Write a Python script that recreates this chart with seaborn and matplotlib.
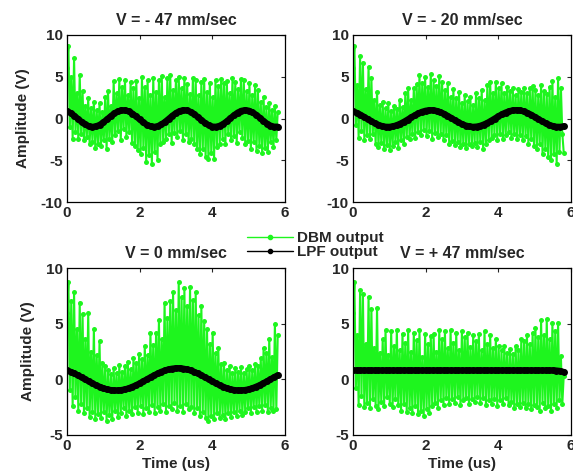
import numpy as np
import matplotlib
matplotlib.use("Agg")
import matplotlib.pyplot as plt
from matplotlib.lines import Line2D
import seaborn as sns

# ---- data ----
titles = ['V = - 47 mm/sec', 'V = - 20 mm/sec', 'V = 0 mm/sec', 'V = + 47 mm/sec']

t_end = 5.8

dbm_m47 = [
    6.0, 8.7, -1.0, 5.0, -2.4, 7.2, -1.6, 3.0, -2.5, 5.2,
    -1.9, 3.3, -2.6, 1.5, -2.2, 2.4, -3.0, 1.2, -2.8, 2.0,
    -3.5, 1.0, -3.0, 1.8, -3.3, 0.8, -2.6, 2.6, -3.6, 3.3,
    -2.4, 1.5, -2.8, 4.5, -2.0, 3.0, -1.5, 4.7, -2.6, 3.8,
    -1.3, 4.6, -2.2, 2.8, -1.6, 4.4, -2.9, 3.6, -3.3, 4.5,
    -3.8, 2.5, -4.2, 5.0, -3.5, 3.8, -5.2, 4.6, -4.4, 2.8,
    -5.5, 4.9, -4.0, 3.2, -5.0, 4.6, -3.1, 5.1, -2.8, 2.6,
    -2.5, 4.8, -1.9, 5.2, -2.9, 3.4, -1.7, 4.6, -2.2, 5.0,
    -1.5, 3.6, -2.6, 4.9, -1.9, 4.1, -2.8, 2.9, -2.4, 4.8,
    -3.1, 4.6, -3.6, 2.8, -4.3, 4.4, -3.7, 4.7, -4.6, 3.2,
    -4.9, 4.3, -4.1, 2.6, -4.8, 4.6, -3.4, 3.9, -3.0, 4.7,
    -2.4, 4.2, -3.1, 4.5, -1.8, 3.0, -2.6, 4.8, -2.1, 4.4,
    -2.9, 3.5, -1.6, 4.7, -2.3, 4.6, -3.0, 3.3, -2.7, 4.2,
    -3.6, 2.8, -2.8, 4.0, -3.9, 3.4, -3.3, 2.0, -4.1, 2.6,
    -3.5, 1.4, -4.0, 1.9, -2.8, 1.0, -3.4, 1.5, -2.6, 0.8,
]
dbm_m20 = [
    6.0, 8.7, -0.8, 4.0, -2.3, 7.5, -1.5, 6.7, -2.6, 3.5,
    -2.0, 6.2, -2.5, 4.8, -1.8, 2.2, -3.0, 3.2, -3.4, 1.6,
    -2.9, 2.0, -3.6, 1.2, -3.2, 1.8, -3.8, 0.9, -3.3, 1.5,
    -2.8, 1.1, -3.5, 2.2, -2.6, 1.4, -3.0, 3.0, -2.2, 3.6,
    -2.5, 2.2, -1.9, 3.6, -2.3, 4.1, -1.6, 5.2, -2.0, 4.3,
    -1.4, 5.0, -2.1, 3.8, -1.5, 5.3, -2.4, 4.6, -1.7, 3.9,
    -2.2, 5.1, -1.8, 4.4, -2.6, 3.4, -2.0, 4.2, -3.0, 2.6,
    -2.7, 3.5, -3.2, 2.4, -2.8, 3.2, -3.4, 1.9, -3.1, 2.8,
    -3.5, 2.1, -3.0, 2.6, -3.3, 1.6, -2.9, 3.0, -3.4, 2.4,
    -2.8, 3.4, -3.6, 2.2, -3.0, 4.0, -2.6, 4.4, -2.3, 3.1,
    -2.0, 4.4, -2.6, 3.6, -1.8, 4.2, -2.4, 3.0, -2.0, 3.8,
    -1.6, 3.3, -2.3, 3.6, -1.9, 2.8, -2.5, 3.5, -2.0, 3.2,
    -2.6, 3.7, -2.1, 3.0, -3.0, 3.6, -2.4, 3.9, -3.3, 3.4,
    -3.6, 2.8, -3.0, 4.0, -4.2, 3.3, -3.7, 2.9, -4.6, 3.8,
    -5.0, 4.5, -4.2, 2.6, -5.4, 4.8, -4.0, 3.7, -1.8, -4.1,
]
dbm_0 = [
    6.0, 8.7, -1.0, 7.0, -2.4, 7.8, -1.6, 4.5, -2.8, 6.9,
    -2.2, 5.9, -3.0, 3.6, -2.6, 6.0, -3.4, 2.5, -2.9, 4.5,
    -3.6, 2.2, -3.1, 3.4, -3.5, 1.5, -2.9, 1.2, -3.7, 0.8,
    -3.2, 0.5, -3.6, 1.0, -2.8, 0.6, -3.4, 1.3, -3.0, 0.7,
    -2.6, 1.2, -3.3, 1.6, -2.8, 0.9, -3.1, 1.9, -2.5, 1.5,
    -3.0, 2.3, -2.4, 1.8, -3.1, 3.0, -2.6, 2.2, -2.9, 4.2,
    -2.3, 3.1, -3.0, 4.2, -2.5, 5.3, -2.8, 3.6, -2.2, 6.9,
    -2.9, 5.5, -2.4, 7.0, -2.7, 7.8, -2.1, 6.2, -2.8, 8.7,
    -2.4, 7.4, -2.9, 8.2, -2.2, 6.6, -2.7, 8.3, -2.5, 7.1,
    -3.0, 7.8, -2.6, 5.8, -3.3, 6.6, -2.9, 5.2, -3.5, 4.5,
    -3.7, 3.2, -3.3, 4.2, -3.6, 2.4, -3.0, 2.8, -3.5, 1.4,
    -3.2, 1.5, -3.6, 0.8, -3.0, 1.2, -3.4, 0.6, -2.9, 1.0,
    -3.3, 0.7, -2.8, 1.1, -3.2, 0.6, -2.9, 0.9, -2.6, 1.2,
    -3.0, 0.8, -2.5, 1.4, -2.9, 1.2, -2.4, 1.9, -2.8, 2.8,
    -2.3, 2.4, -2.9, 3.6, -2.6, 2.0, -2.8, 5.0, -2.7, 4.0,
]
dbm_p47 = [
    6.0, 8.7, -0.8, 4.0, -2.3, 8.0, -1.5, 7.7, -2.5, 3.2,
    -2.1, 7.4, -2.6, 6.3, -1.8, 2.8, -2.4, 6.4, -2.7, 2.4,
    -2.0, 3.6, -2.4, 4.4, -1.6, 2.2, -2.2, 4.3, -2.5, 3.0,
    -1.8, 4.4, -2.3, 2.6, -2.8, 4.1, -2.2, 3.3, -2.9, 4.4,
    -2.6, 2.5, -3.0, 4.2, -2.4, 3.5, -3.1, 4.4, -2.8, 2.0,
    -3.3, 4.1, -2.7, 3.2, -3.0, 3.9, -2.4, 4.1, -2.1, 2.5,
    -2.6, 4.4, -1.9, 3.6, -2.3, 4.3, -1.7, 2.8, -2.2, 4.4,
    -1.8, 3.3, -2.1, 4.2, -1.6, 2.6, -2.3, 4.3, -1.9, 3.8,
    -1.7, 4.2, -2.2, 2.9, -1.8, 4.0, -2.0, 3.4, -1.6, 4.1,
    -2.1, 2.6, -1.7, 4.3, -2.3, 3.2, -1.9, 4.0, -2.2, 2.8,
    -1.8, 3.6, -2.4, 3.0, -1.9, 2.6, -2.2, 3.0, -1.7, 2.4,
    -2.3, 2.7, -2.0, 2.3, -2.6, 3.0, -2.2, 2.6, -2.5, 3.6,
    -2.1, 3.4, -2.6, 4.0, -2.2, 3.2, -2.7, 4.2, -2.3, 4.6,
    -2.5, 3.8, -2.8, 5.3, -2.1, 4.0, -2.6, 5.4, -2.4, 3.6,
    -2.8, 5.1, -2.2, 4.3, -2.6, 5.1, -1.9, 2.1, -2.2, 0.3,
]

lpf_m47 = [0.88, 0.65, 0.33, -0.04, -0.40, -0.71, -0.92, -1.00, -0.94, -0.76,
           -0.47, -0.11, 0.26, 0.60, 0.85, 0.98, 0.98, 0.85, 0.59, 0.26,
           -0.11, -0.47, -0.76, -0.94, -1.00, -0.92, -0.71, -0.40, -0.04, 0.33,
           0.65, 0.89, 0.99, 0.97, 0.80, 0.53, 0.18, -0.19, -0.54, -0.81,
           -0.97, -0.99, -0.88, -0.65, -0.33, 0.04, 0.40, 0.71, 0.92, 1.00,
           0.94, 0.75, 0.46, 0.11, -0.27, -0.60, -0.85, -0.98, -0.98]
lpf_m20 = [0.85, 0.68, 0.46, 0.21, -0.06, -0.32, -0.56, -0.76, -0.91, -0.99,
           -1.00, -0.94, -0.81, -0.62, -0.40, -0.14, 0.13, 0.38, 0.62, 0.80,
           0.93, 0.99, 0.99, 0.91, 0.77, 0.57, 0.33, 0.07, -0.19, -0.45,
           -0.67, -0.84, -0.95, -1.00, -0.97, -0.88, -0.72, -0.52, -0.27, -0.01,
           0.26, 0.51, 0.71, 0.88, 0.97, 1.00, 0.96, 0.85, 0.67, 0.46,
           0.20, -0.06, -0.32, -0.56, -0.76, -0.91, -0.99, -1.00, -0.94]
lpf_0 = [0.80, 0.67, 0.53, 0.36, 0.18, 0.00, -0.18, -0.36, -0.53, -0.67,
         -0.80, -0.90, -0.96, -1.00, -1.00, -0.96, -0.90, -0.80, -0.67, -0.53,
         -0.36, -0.18, 0.00, 0.19, 0.36, 0.53, 0.68, 0.80, 0.90, 0.96,
         1.00, 1.00, 0.96, 0.89, 0.80, 0.67, 0.53, 0.36, 0.18, 0.00,
         -0.19, -0.36, -0.53, -0.67, -0.80, -0.90, -0.96, -1.00, -1.00, -0.96,
         -0.90, -0.80, -0.67, -0.53, -0.36, -0.18, 0.00, 0.19, 0.36]
lpf_p47 = [0.80, 0.80, 0.80, 0.80, 0.80, 0.80, 0.80, 0.80, 0.80, 0.80,
           0.80, 0.80, 0.80, 0.80, 0.80, 0.80, 0.80, 0.80, 0.80, 0.80,
           0.80, 0.80, 0.80, 0.80, 0.80, 0.80, 0.80, 0.80, 0.80, 0.80,
           0.80, 0.80, 0.80, 0.80, 0.80, 0.80, 0.80, 0.80, 0.80, 0.80,
           0.80, 0.80, 0.80, 0.80, 0.80, 0.80, 0.80, 0.80, 0.80, 0.80,
           0.80, 0.80, 0.80, 0.80, 0.80, 0.80, 0.79, 0.75, 0.66]

dbm_all = [dbm_m47, dbm_m20, dbm_0, dbm_p47]
lpf_all = [lpf_m47, lpf_m20, lpf_0, lpf_p47]
ylims = [(-10, 10), (-10, 10), (-5, 10), (-5, 10)]

green = '#1ef51e'

sns.set_style('white')
plt.rcParams['font.family'] = ['Liberation Sans', 'DejaVu Sans']
plt.rcParams['font.weight'] = 'bold'
plt.rcParams['axes.unicode_minus'] = False

fig = plt.figure(figsize=(5.73, 4.76), dpi=100)
W, H = 573, 476
boxes = [(67, 35, 285, 202), (353, 35, 571, 202),
         (67, 268, 285, 435), (353, 268, 571, 435)]

for i, (l, t, r, b) in enumerate(boxes):
    ax = fig.add_axes([l / W, 1 - b / H, (r - l) / W, (b - t) / H])
    dbm = dbm_all[i]
    lpf = lpf_all[i]
    x_dbm = np.linspace(0, t_end, len(dbm))
    x_lpf = np.linspace(0, t_end, len(lpf))
    sns.lineplot(x=x_dbm, y=dbm, ax=ax, color=green, lw=1.5, marker='o',
                 markersize=3.6, markeredgecolor=green, markeredgewidth=0,
                 sort=False, zorder=2)
    sns.lineplot(x=x_lpf, y=lpf, ax=ax, color='black', lw=4.5, marker='o',
                 markersize=5, markeredgecolor='black', markeredgewidth=0,
                 sort=False, zorder=3)
    ax.set_xlim(0, 6)
    ax.set_ylim(*ylims[i])
    ax.set_xticks([0, 2, 4, 6])
    ax.set_yticks(np.arange(ylims[i][0], 11, 5))
    ax.tick_params(direction='in', length=3, top=True, right=True,
                   labelsize=11, width=0.8, pad=3)
    for lab in ax.get_xticklabels() + ax.get_yticklabels():
        lab.set_fontweight('bold')
    for sp in ax.spines.values():
        sp.set_color('black')
        sp.set_linewidth(0.9)
    ax.set_title(titles[i], fontsize=11.5, fontweight='bold', pad=7)
    if i % 2 == 0:
        ax.set_ylabel('Amplitude (V)', fontsize=11, fontweight='bold', labelpad=8)
    if i >= 2:
        ax.set_xlabel('Time (us)', fontsize=11, fontweight='bold', labelpad=3)

handles = [Line2D([], [], color=green, lw=1, marker='o', markersize=3),
           Line2D([], [], color='black', lw=1, marker='o', markersize=3)]
fig.legend(handles, ['DBM output', 'LPF output'], loc='upper left',
           bbox_to_anchor=(247 / W, 1 - 231 / H), frameon=False,
           prop={'size': 11, 'weight': 'bold'}, handlelength=3.0,
           handletextpad=0.3, labelspacing=0.0, borderpad=0, borderaxespad=0)

fig.savefig('out.png', dpi=100)
